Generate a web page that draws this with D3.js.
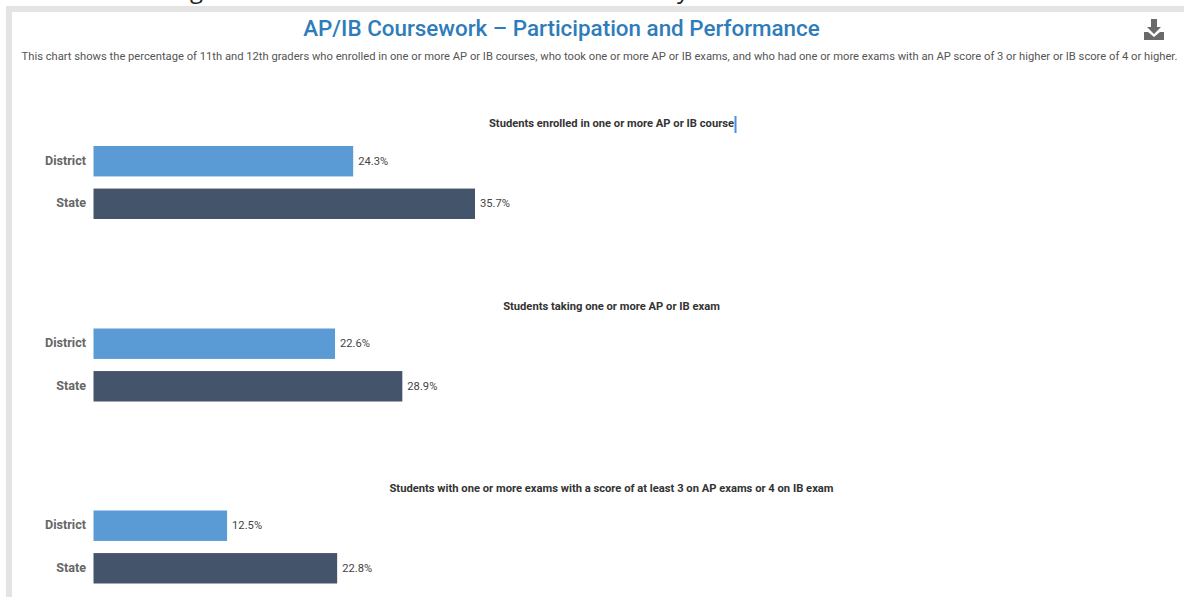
<!DOCTYPE html>
<html><head><meta charset="utf-8">
<script src="https://cdn.jsdelivr.net/npm/d3@7"></script>
<style>html,body{margin:0;padding:0;background:#fff;overflow:hidden}svg{display:block}text{font-family:Roboto,sans-serif}</style>
</head><body><svg id="c" width="1184" height="597"></svg>
<script>
const title = "AP/IB Coursework – Participation and Performance";
const subtitle = "This chart shows the percentage of 11th and 12th graders who enrolled in one or more AP or IB courses, who took one or more AP or IB exams, and who had one or more exams with an AP score of 3 or higher or IB score of 4 or higher.";
const categories = ["District","State"];
const panelTitles = ["Students enrolled in one or more AP or IB course","Students taking one or more AP or IB exam","Students with one or more exams with a score of at least 3 on AP exams or 4 on IB exam"];
const districtValues = [24.3,22.6,12.5];
const stateValues = [35.7,28.9,22.8];
const colors = ["#5b9bd5","#44546a"];
const svg = d3.select("#c");
svg.append("rect").attr("x",6).attr("y",6).attr("width",1178).attr("height",6).attr("fill","#e4e4e4");
svg.append("rect").attr("x",6).attr("y",6).attr("width",6).attr("height",591).attr("fill","#e4e4e4");
// descenders of the cropped heading above the panel
[["g",190],["y",677]].forEach(([s,px])=>svg.append("text").attr("x",px).attr("y",-2).attr("font-size",24).attr("style","font-family:'Open Sans'").attr("fill","#222").text(s));
svg.append("text").attr("x",561.5).attr("y",36).attr("text-anchor","middle").attr("font-size",22.4).attr("font-weight",500).attr("fill","#2e7cba").text(title);
svg.append("text").attr("x",599.5).attr("y",60).attr("text-anchor","middle").attr("font-size",11.2).attr("fill","#555").text(subtitle);
// download icon
const ic = svg.append("g").attr("fill","#6a6a6a");
ic.append("path").attr("d","M1151 19h6v8h4l-7 7-7-7h4z");
ic.append("path").attr("d","M1144 32h4l6 5 6-5h4v8h-20z");
const x = d3.scaleLinear().domain([0,35.7]).range([93.5,475]);
const panelTops = [146,328.5,510.5];
const y = d3.scaleBand().domain(categories).range([0,73]).paddingInner(0.285).paddingOuter(0);
panelTitles.forEach((t,i)=>{
  const g = svg.append("g").attr("transform",`translate(0,${panelTops[i]})`);
  g.append("text").attr("x",611.5).attr("y",-19).attr("text-anchor","middle").attr("font-size",11.2).attr("font-weight",700).attr("fill","#333").text(t);
  const vals=[districtValues[i],stateValues[i]];
  categories.forEach((c,j)=>{
    const by=y(c), bh=y.bandwidth();
    g.append("rect").attr("x",x(0)).attr("y",by).attr("width",x(vals[j])-x(0)).attr("height",bh).attr("fill",colors[j]);
    g.append("text").attr("x",86).attr("y",by+bh/2+3.5).attr("text-anchor","end").attr("font-size",12.6).attr("font-weight",700).attr("fill","#666").text(c);
    g.append("text").attr("x",x(vals[j])+5).attr("y",by+bh/2+3.5).attr("font-size",11.2).attr("fill","#444").text(d3.format(".1f")(vals[j])+"%");
  });
});
// text cursor after first panel title
svg.append("rect").attr("x",734.5).attr("y",116).attr("width",2).attr("height",17).attr("fill","#4a90e2");
</script></body></html>
